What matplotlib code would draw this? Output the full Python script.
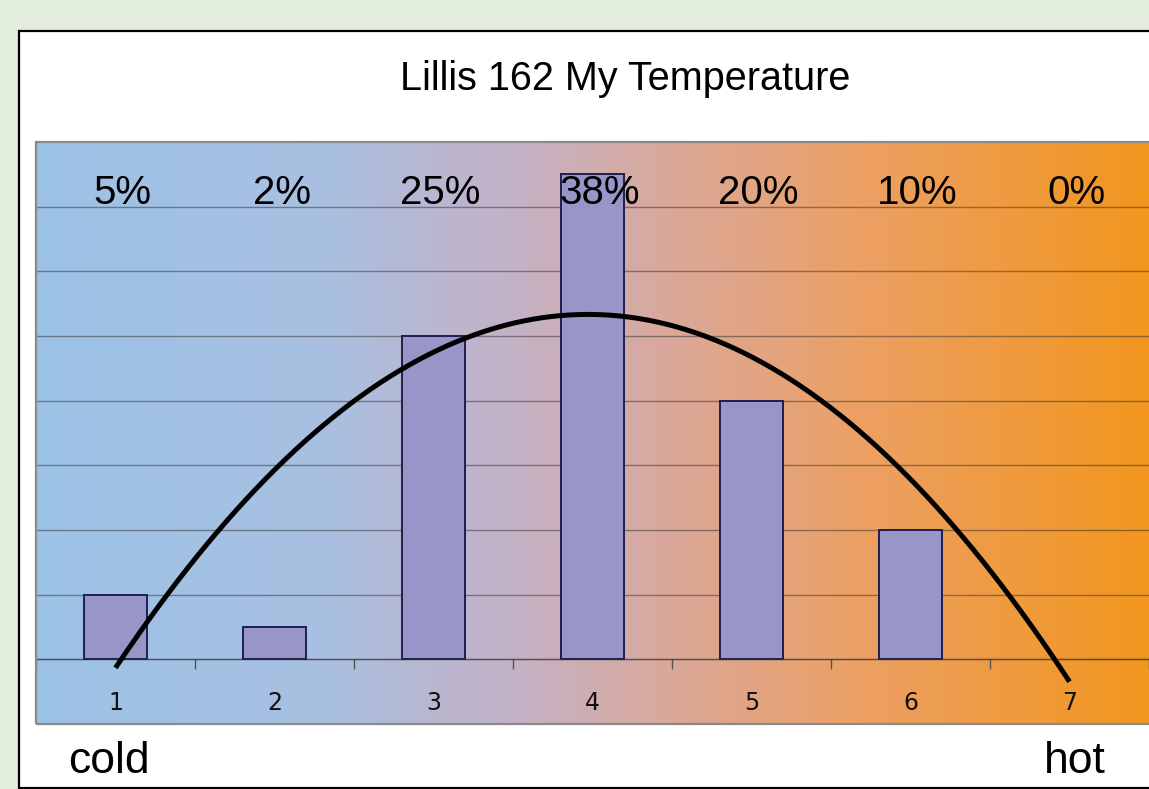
import numpy as np
import matplotlib
matplotlib.use("Agg")
import matplotlib.pyplot as plt
from matplotlib.colors import LinearSegmentedColormap
from matplotlib.patches import Rectangle

# ---- data ----
categories = [1, 2, 3, 4, 5, 6, 7]
values = [5, 2.5, 25, 37.5, 20, 10, 0]          # percent of respondents
value_labels = ["5%", "2%", "25%", "38%", "20%", "10%", "0%"]
title = "Lillis 162 My Temperature"
left_label = "cold"
right_label = "hot"

W, H = 1149, 789
fig = plt.figure(figsize=(W / 100, H / 100), dpi=100)
fig.patch.set_facecolor("#e3eedc")

# white panel with black border
panel = Rectangle((19 / W, 1 / H), 1.2, (788 - 31) / H, transform=fig.transFigure,
                  facecolor="white", edgecolor="black", linewidth=1.6, zorder=-5)
fig.patches.append(panel)

ax = fig.add_axes([36 / W, 1 - 724 / H, 1 - 36 / W, (724 - 142) / H])
ax.set_zorder(2)

# gradient background
stops = [(0.0, (156, 195, 230)), (0.25, (168, 192, 226)), (0.43, (196, 178, 198)),
         (0.57, (218, 168, 154)), (0.74, (236, 160, 100)), (1.0, (242, 150, 30))]
cmap = LinearSegmentedColormap.from_list(
    "grad", [(p, tuple(c / 255 for c in rgb)) for p, rgb in stops])
grad = np.linspace(0, 1, 512).reshape(1, -1)
ax.imshow(grad, cmap=cmap, aspect="auto", extent=[0, 1, 0, 1],
          transform=ax.transAxes, zorder=0)
ax.set_xlim(0.5, 7.5)
ax.set_ylim(-5, 40)

# grid
ax.set_yticks(np.arange(0, 40, 5))
ax.yaxis.grid(True, color="#303030", alpha=0.5, linewidth=1.0)
ax.set_axisbelow(True)
ax.tick_params(axis="y", left=False, labelleft=False)

# bars (zero-height bars drawn without outline)
ax.bar(categories, values, width=0.4, color="#9896c8", edgecolor="#1e1e50",
       linewidth=[1.4 if v > 0 else 0 for v in values], zorder=2)

# quadratic trendline
coef = np.polyfit(categories, values, 2)
xs = np.linspace(categories[0], categories[-1], 300)
ax.plot(xs, np.polyval(coef, xs), color="black", linewidth=3.6, zorder=3,
        solid_capstyle="butt")

# value labels
for c, lab in zip(categories, value_labels):
    ax.text(c + 0.045, 35.2, lab, ha="center", va="baseline", fontsize=29,
            family=["Liberation Sans", "DejaVu Sans"], zorder=4)

# axis at zero
for s in ["top", "left", "right"]:
    ax.spines[s].set_visible(False)
ax.spines["bottom"].set_position(("data", 0))
ax.spines["bottom"].set_color("#303030")
ax.spines["bottom"].set_alpha(0.5)
ax.spines["bottom"].set_linewidth(1.0)
ax.set_xticks(categories)
ax.set_xticklabels([str(c) for c in categories])
ax.set_xticks(np.arange(0.5, 8, 1), minor=True)
ax.tick_params(axis="x", which="major", length=0, pad=23, labelsize=17,
               labelcolor="#111111")
ax.tick_params(axis="x", which="minor", length=7, width=1.0, color="#555555",
               direction="out")
for t in ax.get_xticklabels():
    t.set_family(["DejaVu Sans"])

# plot-area frame
frame = Rectangle((0, 0), 1.2, 1, transform=ax.transAxes, fill=False,
                  edgecolor="#8a8a8a", linewidth=1.6, clip_on=False, zorder=5)
ax.add_patch(frame)

# title and end labels
fig.text(625 / W, 1 - 90 / H, title, ha="center", va="baseline", fontsize=28.5,
         family=["Liberation Sans", "DejaVu Sans"])
fig.text(68 / W, 1 - 773 / H, left_label, ha="left", va="baseline", fontsize=32,
         family=["Liberation Sans", "DejaVu Sans"])
fig.text(1106 / W, 1 - 773 / H, right_label, ha="right", va="baseline", fontsize=32,
         family=["Liberation Sans", "DejaVu Sans"])

fig.savefig("out.png", dpi=100, facecolor=fig.get_facecolor())
